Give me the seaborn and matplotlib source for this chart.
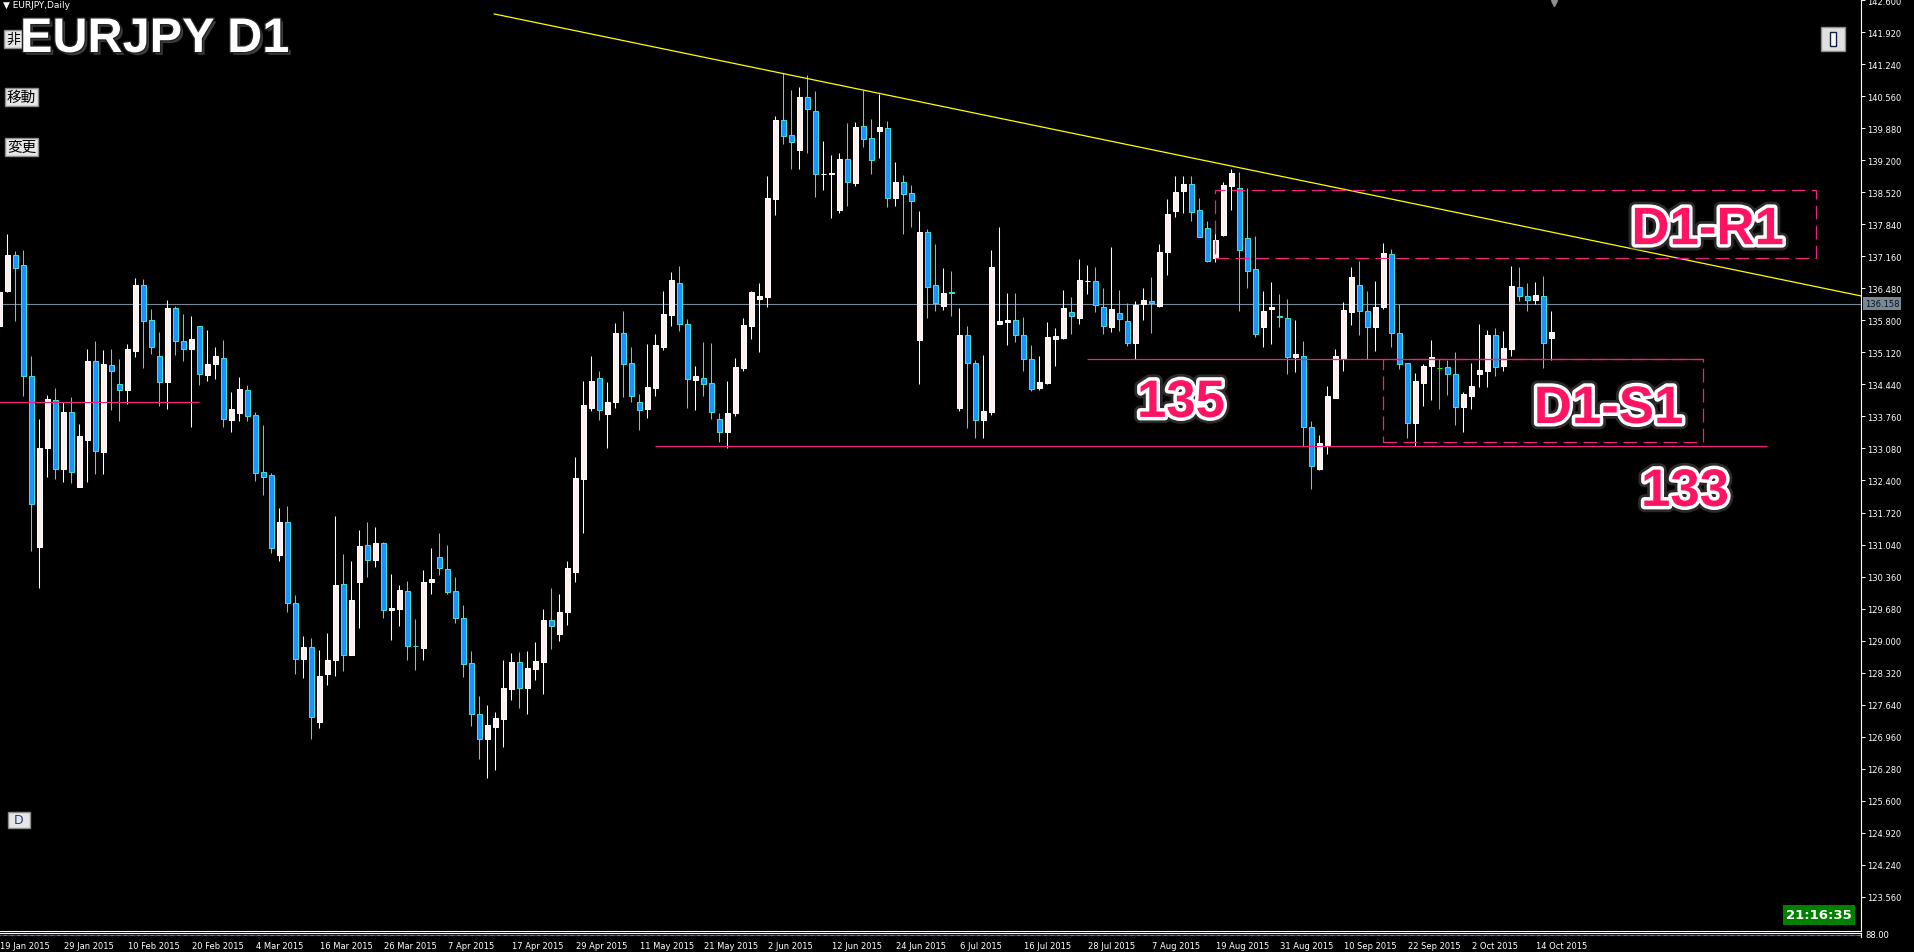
import numpy as np
import pandas as pd
import matplotlib
matplotlib.use("Agg")
import matplotlib.pyplot as plt
import matplotlib.patheffects as pe
from matplotlib.patches import Rectangle
import seaborn as sns

# daily EURJPY bars (first bar 19 Jan 2015)
start_date = "2015-01-19"
opens = [135.69, 136.43, 137.19, 136.97, 134.62, 130.99, 133.09, 134.12, 132.65, 133.86,
         132.27, 133.26, 134.93, 133.01, 134.85, 134.44, 134.32, 135.15, 136.55, 135.80,
         135.04, 134.50, 136.06, 135.36, 135.20, 135.69, 134.64, 134.88, 135.01, 133.69,
         133.84, 134.33, 133.80, 132.57, 132.51, 130.82, 131.51, 129.80, 128.60, 128.86,
         127.28, 128.28, 128.59, 130.20, 128.70, 130.24, 131.02, 130.72, 131.07, 129.64,
         129.68, 130.05, 128.89, 128.85, 130.24, 130.77, 130.53, 130.05, 129.47, 128.52,
         127.45, 126.92, 127.16, 127.34, 127.98, 128.54, 128.00, 128.40, 128.55, 129.44,
         129.15, 129.61, 130.46, 132.44, 133.95, 134.57, 133.82, 134.06, 135.53, 134.90,
         134.07, 133.92, 134.37, 135.24, 135.92, 136.59, 135.72, 134.54, 134.57, 134.48,
         133.70, 133.42, 133.84, 134.80, 135.69, 136.26, 136.30, 138.37, 140.05, 139.73,
         139.41, 140.54, 140.24, 138.90, 138.91, 138.15, 139.23, 138.72, 139.92, 139.67,
         139.83, 139.88, 138.39, 138.74, 138.50, 135.39, 137.68, 136.55, 136.11, 136.40,
         133.95, 135.49, 134.89, 133.69, 133.86, 135.73, 135.77, 135.80, 135.48, 134.97,
         134.37, 134.47, 135.41, 135.43, 135.97, 135.86, 136.63, 136.63, 136.09, 135.67,
         135.96, 135.79, 135.31, 136.14, 136.21, 136.11, 137.26, 138.13, 138.54, 138.70,
         138.14, 137.76, 137.13, 137.62, 138.66, 138.61, 137.55, 136.89, 135.65, 136.05,
         135.90, 135.85, 135.03, 135.05, 133.54, 132.65, 133.16, 134.16, 134.97, 135.97,
         136.55, 136.00, 135.67, 136.09, 137.21, 135.53, 134.89, 133.63, 134.48, 134.84,
         134.80, 134.81, 134.66, 133.96, 134.20, 134.66, 134.73, 135.49, 134.84, 135.20,
         136.51, 136.31, 136.23, 136.32, 135.42]
highs = [136.55, 137.63, 137.27, 137.29, 135.04, 133.70, 134.21, 134.36, 134.06, 134.17,
         133.60, 135.19, 135.36, 135.17, 135.19, 134.99, 135.30, 136.70, 136.68, 136.04,
         135.55, 136.23, 136.10, 135.93, 135.89, 135.69, 135.59, 135.23, 135.38, 134.28,
         134.59, 134.42, 133.86, 133.58, 132.56, 131.81, 131.85, 129.96, 129.10, 129.05,
         128.80, 129.16, 131.65, 130.84, 130.69, 131.35, 131.52, 131.41, 131.09, 130.41,
         130.18, 130.27, 129.46, 130.50, 130.97, 131.28, 131.04, 130.34, 129.76, 128.77,
         127.82, 127.63, 127.48, 128.59, 128.74, 128.76, 128.78, 128.97, 129.67, 130.12,
         129.99, 130.69, 132.90, 134.51, 135.05, 134.73, 134.49, 135.75, 135.99, 135.24,
         134.24, 135.30, 135.51, 136.43, 136.83, 136.96, 135.82, 134.83, 135.34, 135.32,
         133.83, 134.51, 135.00, 135.85, 136.42, 136.60, 138.87, 140.14, 141.06, 140.69,
         140.76, 141.01, 140.67, 139.61, 139.31, 139.36, 139.99, 140.01, 140.69, 140.08,
         140.61, 140.04, 139.16, 138.89, 138.68, 138.12, 137.74, 137.42, 136.91, 136.85,
         136.07, 135.68, 134.95, 135.07, 137.30, 137.79, 136.38, 136.38, 135.87, 135.28,
         135.05, 135.77, 135.64, 136.45, 136.30, 137.11, 136.98, 136.94, 136.49, 137.36,
         136.45, 136.17, 136.21, 136.49, 136.72, 137.42, 138.38, 138.87, 138.87, 138.87,
         138.40, 137.91, 137.85, 138.74, 139.02, 138.95, 138.61, 137.59, 136.43, 136.62,
         136.36, 136.26, 135.81, 135.36, 133.67, 133.37, 134.41, 135.19, 136.19, 136.94,
         137.06, 136.43, 136.64, 137.45, 137.32, 136.15, 134.89, 134.69, 134.88, 135.39,
         134.98, 134.96, 135.12, 134.27, 134.90, 135.73, 135.59, 135.63, 135.58, 136.96,
         136.94, 136.60, 136.61, 136.74, 135.99]
lows = [135.55, 136.41, 135.79, 134.20, 130.91, 130.12, 132.48, 132.44, 132.37, 132.35,
        132.27, 132.37, 132.53, 132.53, 133.90, 133.67, 134.02, 135.03, 134.79, 135.08,
        133.99, 133.91, 135.06, 134.94, 133.54, 134.43, 134.52, 134.55, 133.54, 133.43,
        133.67, 133.67, 132.39, 132.09, 130.86, 130.69, 129.60, 128.30, 128.20, 126.91,
        127.14, 128.06, 128.25, 128.36, 128.70, 129.27, 130.34, 130.57, 129.47, 129.02,
        129.30, 128.59, 128.38, 128.59, 129.99, 130.40, 129.99, 129.38, 128.23, 127.19,
        126.49, 126.09, 126.26, 126.75, 127.74, 127.57, 127.45, 128.17, 127.87, 128.83,
        129.00, 129.34, 130.25, 131.29, 133.88, 133.69, 133.10, 133.95, 134.18, 134.07,
        133.48, 133.73, 134.20, 135.17, 135.69, 135.58, 133.93, 133.90, 134.20, 133.71,
        133.22, 133.08, 133.76, 134.73, 135.41, 135.12, 136.09, 138.03, 139.55, 139.02,
        139.02, 139.36, 138.43, 138.58, 137.98, 138.09, 138.24, 138.66, 139.49, 138.92,
        139.26, 138.20, 138.24, 137.64, 137.79, 134.44, 135.86, 136.01, 136.03, 135.90,
        133.87, 133.51, 133.30, 133.30, 133.79, 135.73, 135.27, 135.35, 134.73, 134.31,
        134.33, 134.44, 134.84, 135.40, 135.51, 135.73, 136.37, 135.97, 135.52, 135.56,
        135.58, 135.26, 134.98, 135.80, 135.54, 136.09, 136.77, 138.00, 138.08, 137.92,
        137.58, 137.05, 137.05, 137.60, 138.15, 135.99, 136.48, 135.44, 135.24, 135.29,
        135.67, 134.67, 134.71, 133.13, 132.22, 132.62, 132.96, 134.16, 134.73, 135.71,
        135.48, 134.98, 135.14, 136.05, 135.24, 134.76, 133.31, 133.14, 133.98, 134.10,
        133.92, 134.22, 133.57, 133.42, 133.92, 134.39, 134.39, 134.61, 134.72, 135.05,
        136.22, 136.01, 136.14, 134.80, 134.95]
closes = [136.40, 137.19, 136.92, 134.62, 131.90, 133.09, 134.13, 132.65, 133.85, 132.58,
          133.34, 134.93, 133.02, 134.87, 134.73, 134.33, 135.19, 136.55, 135.79, 135.24,
          134.50, 136.06, 135.37, 135.20, 135.40, 134.67, 134.88, 135.04, 133.70, 133.91,
          134.34, 133.77, 132.56, 132.48, 130.97, 131.51, 129.80, 128.60, 128.86, 127.37,
          128.25, 128.59, 130.18, 128.70, 129.86, 131.01, 130.72, 131.07, 129.64, 129.69,
          130.07, 128.88, 128.88, 130.24, 130.31, 130.55, 130.04, 129.49, 128.51, 127.45,
          126.92, 127.21, 127.35, 127.99, 128.54, 128.00, 128.42, 128.57, 129.44, 129.32,
          129.61, 130.54, 132.45, 134.00, 134.51, 133.90, 134.06, 135.53, 134.88, 134.20,
          133.90, 134.39, 135.28, 135.94, 136.66, 135.73, 134.55, 134.61, 134.46, 133.86,
          133.42, 133.83, 134.81, 135.70, 136.40, 136.32, 138.40, 140.06, 139.72, 139.58,
          140.54, 140.28, 138.90, 138.91, 138.92, 139.23, 138.73, 139.91, 139.66, 139.21,
          139.91, 138.39, 138.74, 138.49, 138.34, 137.68, 136.50, 136.16, 136.38, 136.38,
          135.49, 134.89, 133.69, 133.87, 136.94, 135.78, 135.81, 135.48, 134.97, 134.35,
          134.49, 135.44, 135.46, 136.06, 135.90, 136.66, 136.64, 136.12, 135.69, 136.04,
          135.82, 135.31, 136.13, 136.24, 136.17, 137.25, 138.06, 138.53, 138.70, 138.11,
          137.58, 137.07, 137.51, 138.68, 138.93, 137.29, 136.86, 135.52, 136.00, 136.09,
          135.88, 135.03, 135.09, 133.54, 132.70, 133.20, 134.20, 135.05, 136.02, 136.72,
          135.99, 135.67, 136.09, 137.23, 135.54, 134.88, 133.63, 134.52, 134.83, 135.02,
          134.80, 134.67, 133.97, 134.23, 134.40, 134.75, 135.49, 134.82, 135.22, 136.53,
          136.31, 136.23, 136.34, 135.31, 135.56]

price_ticks = [123.56, 124.24, 124.92, 125.60, 126.28, 126.96, 127.64, 128.32, 129.00,
               129.68, 130.36, 131.04, 131.72, 132.40, 133.08, 133.76, 134.44, 135.12,
               135.80, 136.48, 137.16, 137.84, 138.52, 139.20, 139.88, 140.56, 141.24,
               141.92, 142.60]
date_labels = ["19 Jan 2015", "29 Jan 2015", "10 Feb 2015", "20 Feb 2015", "4 Mar 2015",
               "16 Mar 2015", "26 Mar 2015", "7 Apr 2015", "17 Apr 2015", "29 Apr 2015",
               "11 May 2015", "21 May 2015", "2 Jun 2015", "12 Jun 2015", "24 Jun 2015",
               "6 Jul 2015", "16 Jul 2015", "28 Jul 2015", "7 Aug 2015", "19 Aug 2015",
               "31 Aug 2015", "10 Sep 2015", "22 Sep 2015", "2 Oct 2015", "14 Oct 2015"]
bid_price = 136.158

# drawn objects (bar index, price)
trend_x = [61.84, 232.7]
trend_y = [142.31, 136.32]
level_prices = [134.06, 134.97, 133.13]
level_start = [0, 136, 82]
level_end = [25, 213, 221]
box_left = [152, 173]
box_right = [227.1, 213]
box_low = [137.12, 133.21]
box_high = [138.57, 134.99]

W, H = 1914, 953
PINK = "#F0207E"
BULL, BULL_EDGE = "#FFEEEE", "#FFFFFF"
BEAR, BEAR_EDGE = "#1E90FF", "#40E0D0"

sns.set_theme(style="dark", rc={"axes.facecolor": "black", "figure.facecolor": "black",
                                "axes.grid": False})
plt.rcParams["font.family"] = ["DejaVu Sans"]


def fx(x):
    return x / W


def fy(y):
    return 1 - y / H


df = pd.DataFrame({"open": opens, "high": highs, "low": lows, "close": closes})
df["date"] = pd.bdate_range(start_date, periods=len(df))
df["idx"] = np.arange(len(df))
up = df[df.close > df.open]
dn = df[df.close < df.open]
eq = df[df.close == df.open]

fig = plt.figure(figsize=(W / 100, H / 100), dpi=100)
ax = fig.add_axes([0, fy(932), fx(1861), 932 / H])
ax.set_facecolor("black")
xlim = (0.0875, 232.7)
ax.set_xlim(*xlim)
ax.set_ylim(142.627 - 0.02124 * 932, 142.627)

# bid line
ax.axhline(bid_price, color="#778899", lw=0.8, zorder=1)

# candles
ax.vlines(up.idx, up.low, up.high, colors=BULL_EDGE, lw=0.75, zorder=3)
ax.vlines(dn.idx, dn.low, dn.high, colors=BEAR_EDGE, lw=0.75, zorder=3)
ax.vlines(eq.idx, eq.low, eq.high, colors="lime", lw=0.75, zorder=3)
ax.bar(up.idx, np.maximum(up.close - up.open, 0.015), bottom=up.open, width=0.55,
       color=BULL, edgecolor=BULL_EDGE, lw=0.75, zorder=4)
ax.bar(dn.idx, np.maximum(dn.open - dn.close, 0.015), bottom=dn.close, width=0.55,
       color=BEAR, edgecolor=BEAR_EDGE, lw=0.75, zorder=4)
ax.hlines(eq.close, eq.idx - 0.35, eq.idx + 0.35, colors="lime", lw=0.75, zorder=4)

# trend line and levels
sns.lineplot(x=trend_x, y=trend_y, color="yellow", lw=0.9, ax=ax, zorder=5)
ax.hlines(level_prices, level_start, level_end, colors=PINK, lw=0.9, zorder=5)
for x0, x1, y0, y1 in zip(box_left, box_right, box_low, box_high):
    ax.add_patch(Rectangle((x0, y0), x1 - x0, y1 - y0, fill=False, ec=PINK, lw=0.9,
                           ls=(0, (11, 5)), zorder=5))

# chart labels
fx_lab = [pe.Stroke(linewidth=9, foreground="#555555", alpha=0.5),
          pe.Stroke(linewidth=5, foreground="white"), pe.Normal()]
lab_font = ["Liberation Sans Narrow", "Liberation Sans"]
for txt, xi, yp in [("D1-R1", 204.0, 137.42), ("D1-S1", 191.8, 133.62),
                    ("135", 142.2, 133.75), ("133", 205.2, 131.86)]:
    ax.text(xi, yp, txt, color="#FF1464", fontsize=38, fontweight="bold",
            family=lab_font, ha="left", va="baseline", path_effects=fx_lab, zorder=8)

# price axis
ax.yaxis.tick_right()
ax.set_yticks(price_ticks)
ax.set_yticklabels([f"{p:.3f}" for p in price_ticks])
ax.tick_params(axis="y", colors="white", length=3, width=0.7, labelsize=6, pad=1.5)
ax.set_xticks([])
for s in ["top", "left"]:
    ax.spines[s].set_visible(False)
for s in ["right", "bottom"]:
    ax.spines[s].set_color("white")
    ax.spines[s].set_linewidth(0.8)
ax.plot(194.3, 142.55, marker="v", color="#909090", ms=4, clip_on=False, zorder=6)

# small indicator strip with the date axis
ax2 = fig.add_axes([0, fy(937.5), fx(1861), 3.5 / H])
ax2.set_facecolor("black")
ax2.set_xlim(*xlim)
ax2.set_ylim(0, 1)
ax2.axhline(0.4, color="#1E90FF", lw=0.8)
ax2.axhline(0.4, color="red", lw=0.8, dashes=(3, 3))
ax2.set_yticks([])
for s in ["left", "bottom"]:
    ax2.spines[s].set_visible(False)
for s in ["top", "right"]:
    ax2.spines[s].set_color("white")
    ax2.spines[s].set_linewidth(0.8)
ax2.set_xticks(df.idx[::8])
ax2.set_xticklabels(date_labels)
ax2.tick_params(axis="x", colors="white", length=2.5, width=0.7, labelsize=6, pad=0.5)
for t in ax2.get_xticklabels():
    t.set_ha("left")
fig.text(fx(1865), fy(936), "88.00", color="white", fontsize=6, va="center")

# bid price tag
fig.text(fx(1865), fy(304.5), f"{bid_price:.3f}", color="#111111", fontsize=6, va="center",
         bbox=dict(boxstyle="square,pad=0.2", fc="#778899", ec="none"))

# header texts and terminal buttons
fig.text(fx(3), fy(5), "\u25bc EURJPY,Daily", color="white", fontsize=6.5, va="center")
btn = dict(boxstyle="square,pad=0.15", fc="#E6E6E6", ec="#8C8C8C", lw=1)
cjk = ["Noto Sans CJK JP", "DejaVu Sans"]
fig.text(fx(6), fy(40), "非", color="black", fontsize=10, va="center", family=cjk, bbox=btn)
fig.text(fx(7), fy(98), "移動", color="black", fontsize=10.5, va="center", family=cjk, bbox=btn)
fig.text(fx(7), fy(148), "変更", color="black", fontsize=10.5, va="center", family=cjk, bbox=btn)
fig.text(fx(10), fy(821), " D ", color="#1E3C8C", fontsize=9, va="center", bbox=btn)
fig.add_artist(Rectangle((fx(1821), fy(52)), 24 / W, 24 / H, transform=fig.transFigure,
                         fc="#E0E0E0", ec="#8C8C8C", lw=1))
fig.add_artist(Rectangle((fx(1830), fy(47)), 6 / W, 14 / H, transform=fig.transFigure,
                         fc="white", ec="#102040", lw=1))
fig.text(fx(20), fy(53), "EURJPY D1", color="white", fontsize=35, fontweight="bold",
         family=["Liberation Sans", "DejaVu Sans"], va="baseline",
         path_effects=[pe.withSimplePatchShadow(offset=(2, -2), shadow_rgbFace="#444444",
                                                 alpha=0.9),
                       pe.Stroke(linewidth=2, foreground="#222222"), pe.Normal()],
         zorder=10)
fig.text(fx(1819), fy(916), "21:16:35", color="white", fontsize=9.5, fontweight="bold",
         ha="center", va="center",
         bbox=dict(boxstyle="square,pad=0.25", fc="#008000", ec="none"))

fig.savefig("out.png", dpi=100, facecolor="black")
